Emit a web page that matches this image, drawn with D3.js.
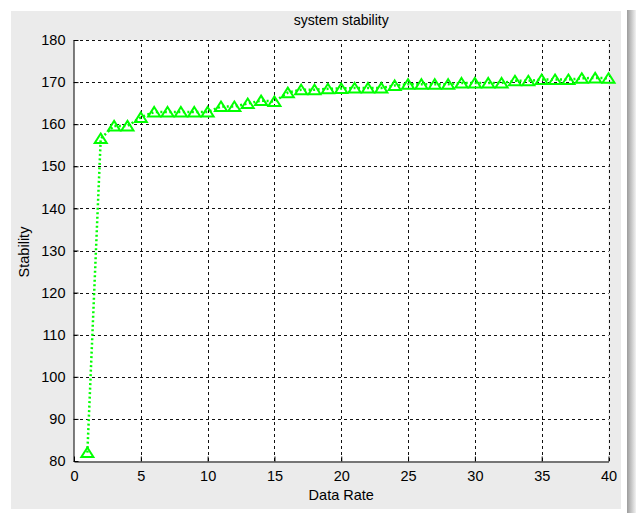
<!DOCTYPE html>
<html lang="en">
	<head>
		<meta charset="utf-8">
		<title>system stability</title>
		<script src="https://d3js.org/d3.v7.min.js"></script>
		<style type="text/css">
		body { margin: 0; background: white; }
		text {
				font-family: "Liberation Sans", Arial, sans-serif;
				fill: #000;
		}
		</style>
	</head>
	<body>
		<script type="text/javascript">

					// Data
					var dataRate = d3.range(1, 41);
					var stability = [82.0, 156.6, 159.6, 159.6, 161.6, 162.9, 162.9, 162.9, 162.9, 162.9,
									 164.2, 164.2, 164.9, 165.6, 165.4, 167.5, 168.2, 168.2, 168.4, 168.5,
									 168.6, 168.6, 168.6, 169.2, 169.5, 169.5, 169.5, 169.5, 169.8, 169.8,
									 169.8, 169.8, 170.3, 170.3, 170.6, 170.6, 170.6, 170.9, 171.0, 170.9];
					var xTicks = [0, 5, 10, 15, 20, 25, 30, 35, 40];
					var yTicks = [80, 90, 100, 110, 120, 130, 140, 150, 160, 170, 180];

					//Width and height
					var w = 636;
					var h = 513;
					var plotL = 74, plotR = 608.5, plotT = 40, plotB = 461;

					var svg = d3.select("body")
					.append("svg")
					.attr("width", w)
					.attr("height", h);

					// figure panel + shadow
					var grad = svg.append("defs").append("linearGradient")
					.attr("id", "shadow");
					grad.append("stop").attr("offset", "0%").attr("stop-color", "#9c9c9c");
					grad.append("stop").attr("offset", "100%").attr("stop-color", "#f2f2f2");
					svg.append("rect")
					.attr("x", 627).attr("y", 10).attr("width", 9).attr("height", 503)
					.attr("fill", "url(#shadow)");
					svg.append("rect")
					.attr("x", 11).attr("y", 11).attr("width", 610).attr("height", 498)
					.attr("fill", "#ebebeb");

					var x = d3.scaleLinear().domain([0, 40]).range([plotL, plotR]);
					var y = d3.scaleLinear().domain([80, 180]).range([plotB, plotT]);

					svg.append("rect")
					.attr("x", plotL).attr("y", plotT)
					.attr("width", plotR - plotL).attr("height", plotB - plotT)
					.attr("fill", "white");

					// grid
					var grid = svg.append("g").attr("stroke", "#111").attr("stroke-width", 1)
					.attr("stroke-dasharray", "3,3");
					grid.selectAll("line.v")
					.data(xTicks.slice(1))
					.enter()
					.append("line")
					.attr("x1", function(d) { return Math.round(x(d)) + 0.5; })
					.attr("x2", function(d) { return Math.round(x(d)) + 0.5; })
					.attr("y1", plotB).attr("y2", plotT);
					grid.selectAll("line.h")
					.data(yTicks.slice(1))
					.enter()
					.append("line")
					.attr("y1", function(d) { return Math.round(y(d)) + 0.5; })
					.attr("y2", function(d) { return Math.round(y(d)) + 0.5; })
					.attr("x1", plotL).attr("x2", plotR);

					// axes
					var xAxis = d3.axisBottom(x).tickValues(xTicks).tickSizeInner(-5).tickSizeOuter(0).tickPadding(9);
					var yAxis = d3.axisLeft(y).tickValues(yTicks).tickSizeInner(-5).tickSizeOuter(0).tickPadding(8);

					svg.append("g")
					.attr("transform", "translate(0," + (plotB + 0.5) + ")")
					.call(xAxis)
					.call(function(g) {
						g.select(".domain").attr("stroke", "#000");
						g.selectAll("text").attr("font-size", 14.5).attr("font-family", "Liberation Sans, Arial, sans-serif");
					});

					svg.append("g")
					.attr("transform", "translate(" + (plotL - 0.5) + ",0)")
					.call(yAxis)
					.call(function(g) {
						g.select(".domain").attr("stroke", "#000");
						g.selectAll("text").attr("font-size", 14.5).attr("font-family", "Liberation Sans, Arial, sans-serif");
					});

					// line
					var line = d3.line()
					.x(function(d, i) { return x(dataRate[i]); })
					.y(function(d) { return y(d); });

					svg.append("path")
					.datum(stability)
					.attr("fill", "none")
					.attr("stroke", "#00ff00")
					.attr("stroke-width", 2.5)
					.attr("stroke-dasharray", "2,2.5")
					.attr("d", line);

					// triangle markers
					svg.selectAll("path.marker")
					.data(stability)
					.enter()
					.append("path")
					.attr("class", "marker")
					.attr("transform", function(d, i) {
							return "translate(" + x(dataRate[i]) + "," + y(d) + ")";
					})
					.attr("d", "M0,-5L6,4.5L-6,4.5Z")
					.attr("fill", "none")
					.attr("stroke", "#00ff00")
					.attr("stroke-width", 2);

					// labels
					svg.append("text")
					.attr("x", (plotL + plotR) / 2).attr("y", 25)
					.attr("text-anchor", "middle")
					.attr("font-size", 14)
					.text("system stability");

					svg.append("text")
					.attr("x", (plotL + plotR) / 2).attr("y", 500)
					.attr("text-anchor", "middle")
					.attr("font-size", 14.5)
					.text("Data Rate");

					svg.append("text")
					.attr("transform", "translate(29,252) rotate(-90)")
					.attr("text-anchor", "middle")
					.attr("font-size", 14.5)
					.text("Stability");

		</script>
	</body>
</html>
